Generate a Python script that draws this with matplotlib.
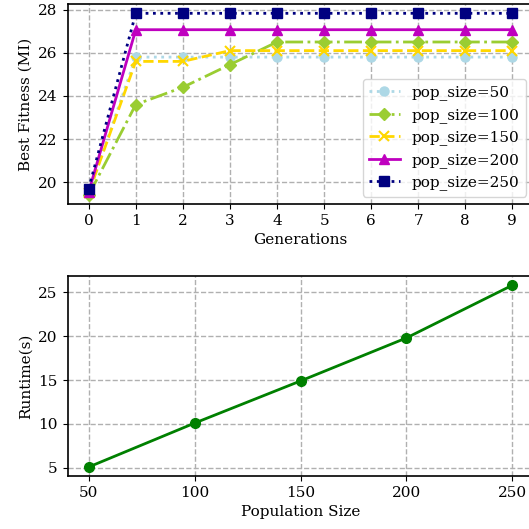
import numpy as np
import matplotlib
matplotlib.use("Agg")
from matplotlib import pyplot as plt

plt.rcParams['font.family'] = 'DejaVu Serif'
plt.rcParams['font.size'] = 11

generations = list(range(10))
pop_labels = ['pop_size=50', 'pop_size=100', 'pop_size=150', 'pop_size=200', 'pop_size=250']
fit_50 = [19.5, 25.8, 25.8, 25.8, 25.8, 25.8, 25.8, 25.8, 25.8, 25.8]
fit_100 = [19.4, 23.6, 24.4, 25.45, 26.5, 26.5, 26.5, 26.5, 26.5, 26.5]
fit_150 = [19.5, 25.6, 25.6, 26.1, 26.1, 26.1, 26.1, 26.1, 26.1, 26.1]
fit_200 = [19.55, 27.07, 27.07, 27.07, 27.07, 27.07, 27.07, 27.07, 27.07, 27.07]
fit_250 = [19.7, 27.83, 27.83, 27.83, 27.83, 27.83, 27.83, 27.83, 27.83, 27.83]

pop_sizes = [50, 100, 150, 200, 250]
runtime = [5.1, 10.1, 14.9, 19.8, 25.8]

fig = plt.figure(figsize=(5.29, 5.29), dpi=100)
# axes run a bit past the right edge, like the cropped original
ax1 = fig.add_axes([0.1276, 0.614, 0.881, 0.378])
ax2 = fig.add_axes([0.1276, 0.100, 0.881, 0.378])

ax1.plot(generations, fit_50, ':', color='lightblue', marker='o', ms=6.5, lw=2, label=pop_labels[0])
ax1.plot(generations, fit_100, '-.', color='yellowgreen', marker='D', ms=6.5, lw=2, label=pop_labels[1])
ax1.plot(generations, fit_150, '--', color='gold', marker='x', ms=6.5, mew=1.5, lw=2, label=pop_labels[2])
ax1.plot(generations, fit_200, '-', color='m', marker='^', ms=6.5, lw=2, label=pop_labels[3])
ax1.plot(generations, fit_250, ':', color='navy', marker='s', ms=6.5, lw=2, label=pop_labels[4])
ax1.set_xticks(generations)
ax1.set_xlabel('Generations')
ax1.set_ylabel('Best Fitness (MI)')
ax1.grid(True, linestyle='--', color='#b0b0b0', lw=1)
ax1.legend(loc='lower right')

ax2.plot(pop_sizes, runtime, '-', color='g', marker='o', ms=7, lw=2)
ax2.set_xticks(pop_sizes)
ax2.set_xlabel('Population Size')
ax2.set_ylabel('Runtime(s)')
ax2.grid(True, linestyle='--', color='#b0b0b0', lw=1)

for ax in (ax1, ax2):
    ax.set_axisbelow(True)
    for s in ax.spines.values():
        s.set_linewidth(1.2)

fig.savefig('out.png', dpi=100)
